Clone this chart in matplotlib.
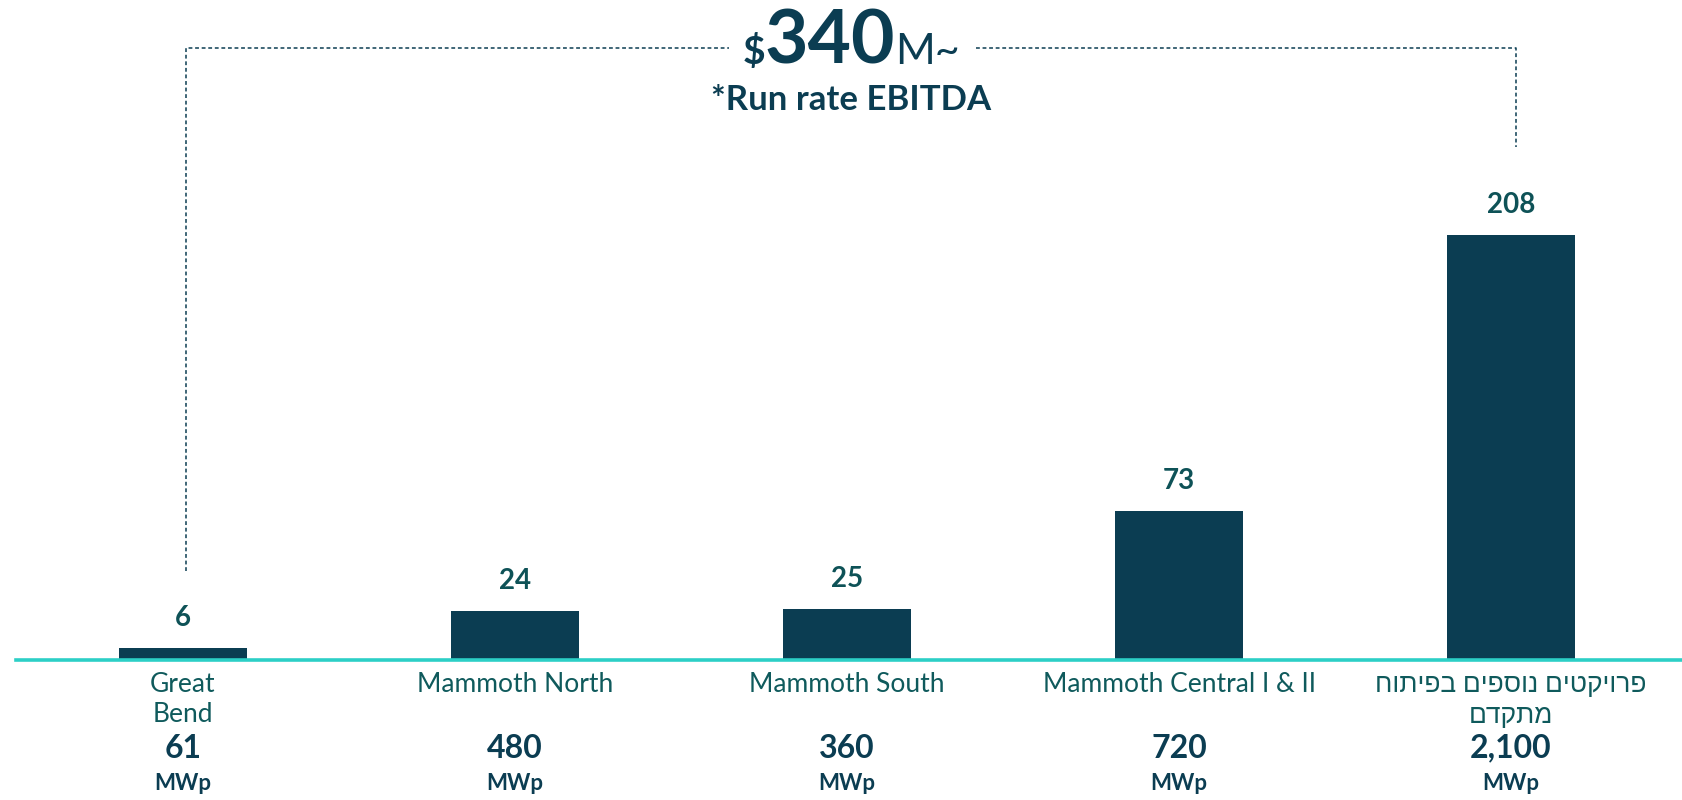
import matplotlib
matplotlib.use('Agg')
import matplotlib.pyplot as plt

# Data
categories = ['Great\nBend', 'Mammoth North', 'Mammoth South',
              'Mammoth Central I & II', 'פרויקטים נוספים בפיתוח\nמתקדם']
ebitda = [6, 24, 25, 73, 208]          # run rate EBITDA, $M
capacity = ['61', '480', '360', '720', '2,100']  # MWp
total_ebitda = '340'

NAVY = '#0b3d52'
TEAL = '#2ccfc6'
GREEN = '#0e5257'
LABEL = '#0f5a5c'

plt.rcParams['font.family'] = ['Lato', 'Liberation Sans', 'DejaVu Sans']


def visual(s):
    # matplotlib has no bidi support: flip Hebrew lines into visual order
    if any('\u0590' <= ch <= '\u05ff' for ch in s):
        return s[::-1]
    return s


fig = plt.figure(figsize=(16.83, 8), dpi=100)
ax = fig.add_axes([16 / 1683, 0.175, 1 - 16 / 1683, 0.825])
x = list(range(len(ebitda)))

ax.bar(x, ebitda, width=0.386, color=NAVY, zorder=2)
ax.set_xlim(-0.503, 4.518)
ax.set_ylim(0, 323)

for s in ['left', 'right', 'top']:
    ax.spines[s].set_visible(False)
ax.spines['bottom'].set_color(TEAL)
ax.spines['bottom'].set_linewidth(2.6)
ax.spines['bottom'].set_zorder(3)
ax.set_xticks([])
ax.set_yticks([])

# values above the bars
for i, v in zip(x, ebitda):
    ax.annotate(str(v), (i, v), xytext=(0, 21.5), textcoords='offset points',
                ha='center', va='center', fontsize=20, fontweight='bold', color=GREEN)

# labels under the axis
for i, (cat, cap) in enumerate(zip(categories, capacity)):
    for k, line in enumerate(cat.split('\n')):
        ax.annotate(visual(line), (i, 0), xytext=(0, -17.3 - 22.3 * k),
                    textcoords='offset points', ha='center', va='center',
                    fontsize=19, color=LABEL, annotation_clip=False)
    ax.annotate(cap, (i, 0), xytext=(0, -63.5), textcoords='offset points',
                ha='center', va='center', fontsize=23, fontweight='bold', color=NAVY,
                annotation_clip=False)
    ax.annotate('MWp', (i, 0), xytext=(0, -89), textcoords='offset points',
                ha='center', va='center', fontsize=16, fontweight='bold', color=NAVY,
                annotation_clip=False)

# bracket spanning all projects
dash = dict(color=NAVY, lw=1.1, linestyle=(0, (2.5, 1.8)), zorder=1)
ax.plot([0.009, 0.009, 1.645], [43.6, 299.6, 299.6], **dash)
ax.plot([2.389, 4.015, 4.015], [299.6, 299.6, 251.1], **dash)

# total headline
t = ax.text(1.949, 291.7, total_ebitda, ha='center', va='baseline',
            fontsize=54, fontweight='bold', color=NAVY)
ax.annotate('$', xy=(0, 291.7), xycoords=(t, 'data'), ha='right', va='baseline',
            fontsize=28, fontweight='bold', color=NAVY)
ax.annotate('M~', xy=(1, 291.7), xycoords=(t, 'data'), ha='left', va='baseline',
            fontsize=31, color=NAVY)
ax.text(2.012, 269.2, '*Run rate EBITDA', ha='center', va='baseline',
        fontsize=25, fontweight='bold', color=NAVY)

fig.savefig('out.png', dpi=100)
